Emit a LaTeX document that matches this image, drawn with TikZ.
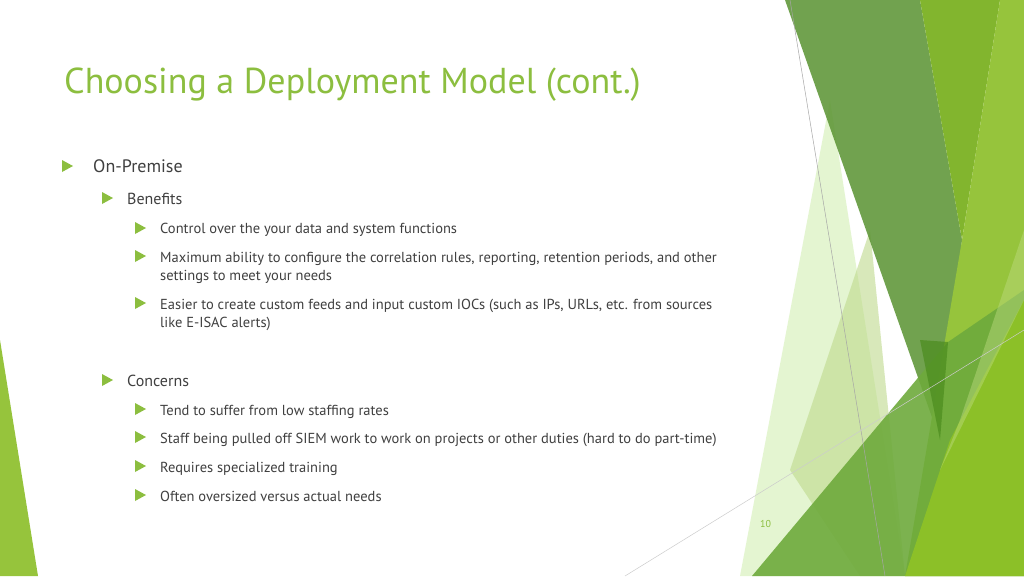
\documentclass[tikz,border=0pt]{standalone}
\usepackage{fontspec}
\setmainfont{PT Sans}
\begin{document}
\begin{tikzpicture}[x=1pt,y=-1pt,
  body/.style={anchor=base west,inner sep=0pt,text=black!75,font=\fontsize{14.5}{18}\selectfont},
  tri/.style={fill=titlegreen},
]
\definecolor{titlegreen}{HTML}{8CBE3F}
\useasboundingbox (0,0) rectangle (1024,576);
\fill[white] (0,0) rectangle (1024,576);
% decorations
\fill[fill=green!50!lime!60!olive!40, opacity=0.45] (830,100) -- (740,576) -- (905,576) -- cycle;
\fill[fill={rgb,255:red,190;green,218;blue,140}, opacity=0.6] (870,230) -- (790,470) -- (860,576) -- (905,576) -- cycle;
\fill[fill={rgb,255:red,94;green,150;blue,55}, opacity=0.88] (785,0) -- (920,0) -- (962,240) -- (940,440) -- cycle;
\fill[fill={rgb,255:red,130;green,181;blue,46}] (920,0) -- (1000,0) -- (962,240) -- cycle;
\fill[fill={rgb,255:red,150;green,196;blue,60}] (1000,0) -- (1024,0) -- (1024,576) -- (905,576) -- (962,240) -- cycle;
\fill[fill={rgb,255:red,110;green,170;blue,60}, opacity=0.9] (752,576) -- (948,342) -- (1024,290) -- (1024,576) -- cycle;
\fill[fill={rgb,255:red,140;green,192;blue,40}] (905,576) -- (950,440) -- (1024,300) -- (1024,576) -- cycle;
\fill[fill={rgb,255:red,190;green,220;blue,130}, opacity=0.45] (1024,230) -- (960,420) -- (940,470) -- (1024,300) -- cycle;
\fill[fill={rgb,255:red,75;green,140;blue,30}, opacity=0.7] (920,340) -- (948,342) -- (940,440) -- cycle;
\fill[fill={rgb,255:red,150;green,196;blue,60}] (0,340) -- (38,576) -- (0,576) -- cycle;
\draw[black!35, line width=0.5pt] (790,0) -- (885,576);
\draw[black!20, line width=0.5pt] (625,576) -- (1024,330);
% title
\node[anchor=base west,inner sep=0pt,text=titlegreen,font=\fontsize{36}{40}\selectfont] (title) at (64,93) {Choosing a Deployment Model (cont.)};
% bullets
\foreach \x/\y [count=\i] in {67/166,107/198,107/380,140/228,140/256,140/303,140/409,140/437,140/466,140/495}{
  \fill[tri] (\x-5,\y-6) -- (\x+6,\y) -- (\x-5,\y+6) -- cycle;
}
\node[body,font=\fontsize{18}{22}\selectfont] (l1) at (93,172) {On-Premise};
\node[body,font=\fontsize{16}{20}\selectfont] (ben) at (127,204) {Benefits};
\node[body] (b1) at (160,233) {Control over the your data and system functions};
\node[body] (b2) at (160,262) {Maximum ability to configure the correlation rules, reporting, retention periods, and other};
\node[body] (b2b) at (160,280) {settings to meet your needs};
\node[body] (b3) at (160,309) {Easier to create custom feeds and input custom IOCs (such as IPs, URLs, etc. from sources};
\node[body] (b3b) at (160,327) {like E-ISAC alerts)};
\node[body,font=\fontsize{16}{20}\selectfont] (con) at (127,386) {Concerns};
\node[body] (c1) at (160,415) {Tend to suffer from low staffing rates};
\node[body] (c2) at (160,443) {Staff being pulled off SIEM work to work on projects or other duties (hard to do part-time)};
\node[body] (c3) at (160,472) {Requires specialized training};
\node[body] (c4) at (160,501) {Often oversized versus actual needs};
\node[anchor=base west,inner sep=0pt,text=titlegreen,font=\fontsize{10}{12}\selectfont] (pg) at (760,527) {10};
\end{tikzpicture}
\end{document}
